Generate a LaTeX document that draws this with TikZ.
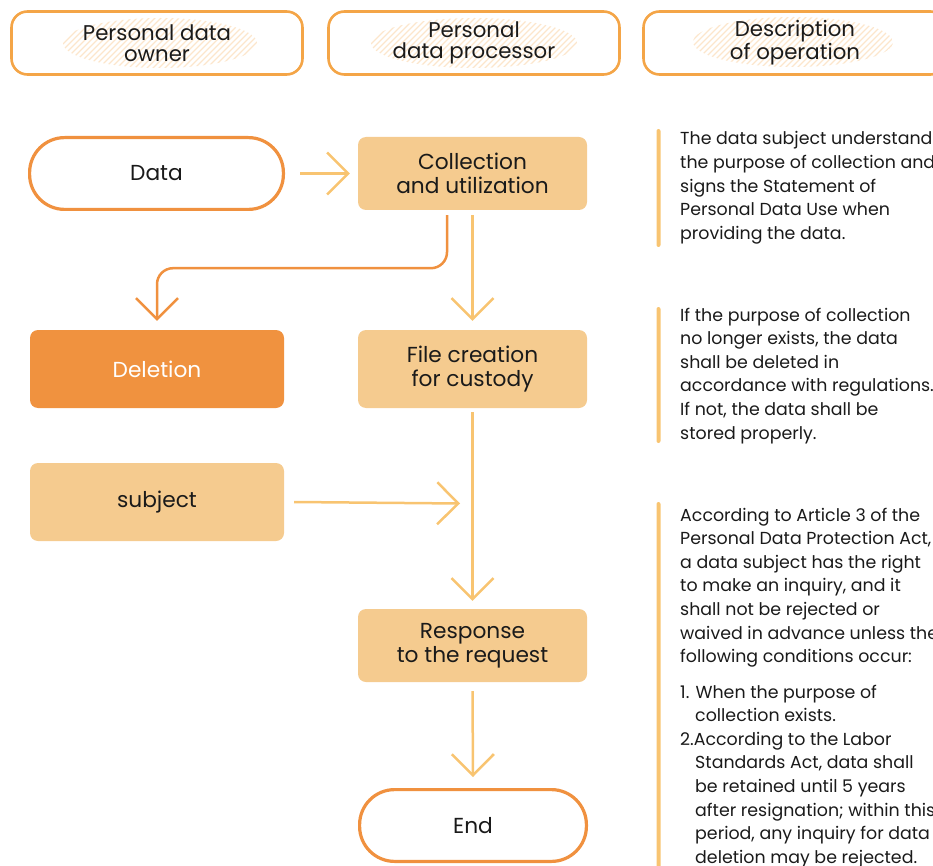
\documentclass[tikz,border=0pt]{standalone}
\usepackage{fontspec}
\setmainfont{Poppins}
\usetikzlibrary{arrows.meta,backgrounds}

\definecolor{edgeorange}{HTML}{F0913F}
\definecolor{headorange}{HTML}{F4A547}
\definecolor{softfill}{HTML}{F5CB8F}
\definecolor{linkcol}{HTML}{F8C471}
\definecolor{hatchcol}{HTML}{FCE6CC}
\definecolor{delfill}{HTML}{F0923F}
\definecolor{ink}{HTML}{1A1A1A}

% diagonal hatch patch behind a column title: centre x, centre y, half width
\newcommand\hatchblob[3]{%
  \begin{scope}
    \clip (#1,#2) ellipse [x radius=#3, y radius=25];
    \foreach \d in {-150,-144,...,150}
      \draw[hatchcol, line width=1.1pt] ({#1+\d-30},{#2+30}) -- ({#1+\d+30},{#2-30});
  \end{scope}}

\begin{document}
\begin{tikzpicture}[x=1pt,y=-1pt,
  header/.style={draw=headorange, line width=2.6pt, rounded corners=16pt,
    minimum width=291pt, minimum height=63pt, align=center, text=ink,
    font=\fontsize{21.3}{21}\selectfont},
  stadium/.style={draw=edgeorange, line width=3.2pt, fill=white, rounded corners=35pt,
    minimum height=71.8pt, text=ink, font=\fontsize{21.7}{24}\selectfont},
  stepbox/.style={fill=softfill, rounded corners=8pt, minimum width=229pt,
    minimum height=73pt, align=center, text=ink, font=\fontsize{21.7}{24}\selectfont},
  link/.style={draw=linkcol, line width=2.5pt,
    -{Straight Barb[length=21pt, width=42pt]}},
  linkdark/.style={link, draw=edgeorange},
  bar/.style={fill=linkcol, rounded corners=2pt},
  note/.style={anchor=base west, inner sep=0pt, text=ink},
]
\useasboundingbox (0,0) rectangle (933,866);

% column titles
\node[header] (own) at (157,43) {Personal data\\owner};
\node[header] (proc) at (474,43) {Personal\\data processor};
\node[header, minimum width=303pt] (desc) at (795,43) {Description\\of operation};
\begin{scope}[on background layer]
  \hatchblob{160}{43}{97}
  \hatchblob{474}{43}{103}
  \hatchblob{793}{42}{100}
\end{scope}

% flow
\node[stadium, minimum width=253.8pt] (data) at (156.5,173.5) {Data};
\node[stepbox] (coll) at (472.5,173.5) {Collection\\and utilization};
\node[stepbox, minimum height=78pt, minimum width=254pt, fill=delfill, text=white]
  (del) at (157,369) {Deletion};
\node[stepbox, minimum height=78pt] (file) at (472.5,369) {File creation\\for custody};
\node[stepbox, minimum height=78pt, minimum width=254pt] (subj) at (157,502) {subject};
\node[stepbox] (resp) at (472.5,645.5) {Response\\to the request};
\node[stadium, minimum width=226.8pt] (end) at (473,825.5) {End};
\coordinate (join) at (473,503.5);

\draw[link] ([xshift=15pt]data.east) -- ([xshift=-8pt]coll.west);
\draw[link] ([yshift=-5pt]coll.south) -- ([yshift=9pt]file.north);
\draw[linkdark, rounded corners=16pt]
  ([xshift=-25.5pt,yshift=-5pt]coll.south) -- ++(0,53) -| ([yshift=9pt]del.north);
\draw[link] ([xshift=10pt]subj.east) -- ([xshift=-13pt]join);
\draw[link] ([yshift=-4pt]file.south) -- ([yshift=8pt]resp.north);
\draw[link] ([yshift=-9pt]resp.south) -- ([yshift=11pt]end.north);

% description column
\fill[bar] (656.5,129) rectangle (660.5,247);
\fill[bar] (656.5,307) rectangle (660.5,443);
\fill[bar] (656.5,502) rectangle (660.5,880);

\node[note] (n1) at (680,145) {\parbox[t]{300pt}{\fontsize{17.4}{23.6}\selectfont\raggedright
  The data subject understands\\
  the purpose of collection and\\
  signs the Statement of\\
  Personal Data Use when\\
  providing the data.}};
\node[note] (n2) at (680,321) {\parbox[t]{300pt}{\fontsize{17.4}{23.6}\selectfont\raggedright
  If the purpose of collection\\
  no longer exists, the data\\
  shall be deleted in\\
  accordance with regulations.\\
  If not, the data shall be\\
  stored properly.}};
\node[note] (n3) at (680,521) {\parbox[t]{300pt}{\fontsize{17.4}{23.6}\selectfont\raggedright
  According to Article 3 of the\\
  Personal Data Protection Act,\\
  a data subject has the right\\
  to make an inquiry, and it\\
  shall not be rejected or\\
  waived in advance unless the\\
  following conditions occur:\\[11.8pt]
  1. When the purpose of\\
  \hspace*{15pt}collection exists.\\
  2.According to the Labor\\
  \hspace*{15pt}Standards Act, data shall\\
  \hspace*{15pt}be retained until 5 years\\
  \hspace*{15pt}after resignation; within this\\
  \hspace*{15pt}period, any inquiry for data\\
  \hspace*{15pt}deletion may be rejected.}};
\end{tikzpicture}
\end{document}
